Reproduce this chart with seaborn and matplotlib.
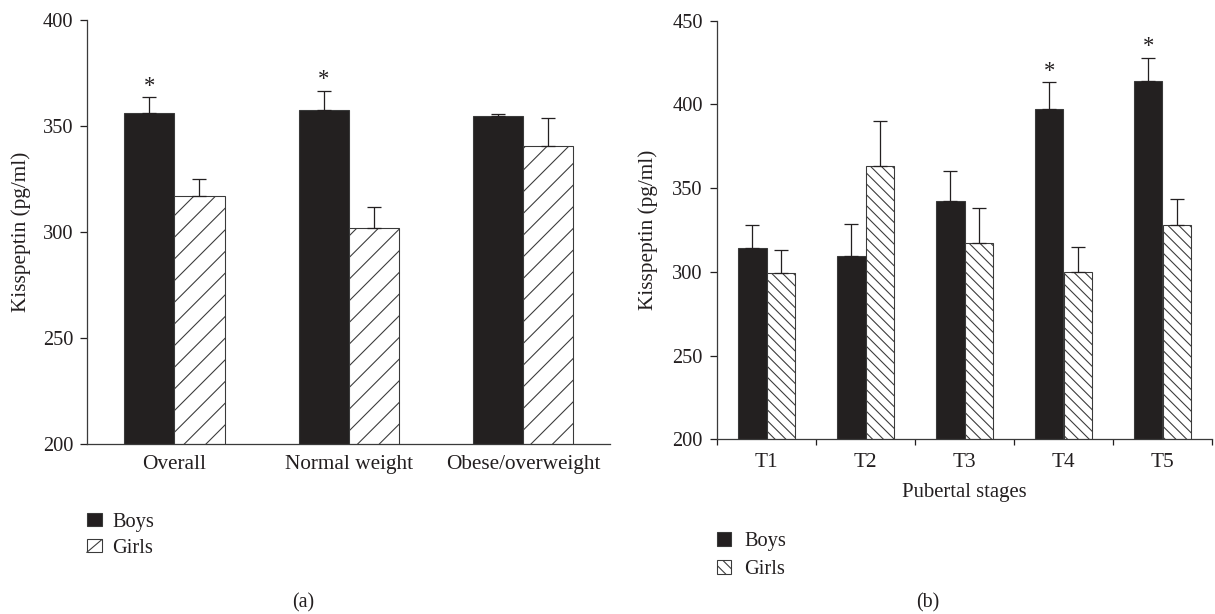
import numpy as np
import pandas as pd
import seaborn as sns
import matplotlib.pyplot as plt
from matplotlib.patches import Patch, Rectangle
from matplotlib.lines import Line2D
from matplotlib.legend_handler import HandlerPatch

# panel (a): by weight status
a_groups = ['Overall', 'Normal weight', 'Obese/overweight']
a_boys = [356, 357.5, 354.5]
a_boys_err = [7.5, 9.2, 1.2]
a_girls = [317, 302, 340.5]
a_girls_err = [8, 9.8, 13.2]
a_sig = ['Overall', 'Normal weight']

# panel (b): by pubertal stage
b_stages = ['T1', 'T2', 'T3', 'T4', 'T5']
b_boys = [314.5, 309.5, 342.5, 397, 414]
b_boys_err = [13.5, 19, 17.5, 16.2, 14]
b_girls = [299.5, 363.5, 317, 300, 328]
b_girls_err = [13.5, 26.3, 21.3, 15, 15.5]
b_sig = ['T4', 'T5']

sexes = ['Boys', 'Girls']

INK = '#231f20'
EDGE = '#3a3a3a'
DPI = 130
W, H = 1215, 614

sns.set_style('ticks')
plt.rcParams['font.family'] = ['Liberation Serif', 'DejaVu Serif']
plt.rcParams['font.size'] = 11
plt.rcParams['text.color'] = INK
plt.rcParams['axes.labelcolor'] = INK
plt.rcParams['xtick.color'] = INK
plt.rcParams['ytick.color'] = INK
plt.rcParams['axes.edgecolor'] = EDGE
plt.rcParams['axes.linewidth'] = 0.7
plt.rcParams['hatch.linewidth'] = 0.6
plt.rcParams['hatch.color'] = EDGE


class DiagonalBox(HandlerPatch):
    # legend key of panel (a): open box with one "/" stroke
    def create_artists(self, legend, orig_handle, xdescent, ydescent, width, height, fontsize, trans):
        x0, y0 = -xdescent, -ydescent
        box = Rectangle((x0, y0), width, height, facecolor='white', edgecolor=EDGE,
                        linewidth=0.6, transform=trans)
        stroke = Line2D([x0, x0 + width], [y0, y0 + height], color=EDGE, linewidth=0.6,
                        transform=trans)
        return [box, stroke]


def make_frame(cats, boys, girls):
    rows = []
    for c, b, g in zip(cats, boys, girls):
        rows.append({'cat': c, 'sex': 'Boys', 'val': b})
        rows.append({'cat': c, 'sex': 'Girls', 'val': g})
    return pd.DataFrame(rows)


def draw_panel(ax, cats, boys, boys_err, girls, girls_err, sig, hatch):
    df = make_frame(cats, boys, girls)
    sns.barplot(data=df, x='cat', y='val', hue='sex', order=cats, hue_order=sexes,
                palette=[INK, 'white'], width=0.575, gap=0, errorbar=None,
                edgecolor=EDGE, linewidth=0.6, legend=False, ax=ax)
    bars = sorted(ax.patches, key=lambda p: p.get_x())
    errs = [e for pair in zip(boys_err, girls_err) for e in pair]
    for i, (p, e) in enumerate(zip(bars, errs)):
        if i % 2 == 1:
            p.set_hatch(hatch)
        xc = p.get_x() + p.get_width() / 2
        top = p.get_height()
        ax.errorbar(xc, top, yerr=[[0], [e]], fmt='none', ecolor=INK,
                    elinewidth=0.7, capsize=4, capthick=0.7)
        if i % 2 == 0 and cats[i // 2] in sig:
            ax.annotate('*', xy=(xc, top + e), xytext=(0, 6), textcoords='offset points',
                        ha='center', va='center', fontsize=12.5)
    ax.set_xlim(-0.5, len(cats) - 0.5)
    ax.set_xlabel('')
    ax.set_ylabel('Kisspeptin (pg/ml)', fontsize=11.8)
    ax.yaxis.label.set_va('center')
    sns.despine(ax=ax)
    ax.tick_params(axis='y', length=3.9, width=0.7, pad=4, labelsize=11.3)
    ax.tick_params(axis='x', which='major', length=0, pad=6, labelsize=11.8)


fig = plt.figure(figsize=(W / DPI, H / DPI), dpi=DPI)


def px_axes(left, right, top, bottom):
    return fig.add_axes([left / W, 1 - bottom / H, (right - left) / W, (bottom - top) / H])


# (a)
ax_a = px_axes(87.3, 610, 20, 444)
draw_panel(ax_a, a_groups, a_boys, a_boys_err, a_girls, a_girls_err, a_sig, '//')
ax_a.set_ylim(200, 400)
ax_a.set_yticks(np.arange(200, 401, 50))
ax_a.yaxis.set_label_coords(-0.127, 0.5)
girls_a = Patch(facecolor='white', edgecolor=EDGE, linewidth=0.6, label='Girls')
ax_a.legend(handles=[Patch(facecolor=INK, edgecolor=EDGE, linewidth=0.6, label='Boys'), girls_a],
            handler_map={girls_a: DiagonalBox()},
            loc='upper left', bbox_to_anchor=(86.7 / W, 1 - 513 / H), bbox_transform=fig.transFigure,
            frameon=False, borderpad=0, borderaxespad=0, handlelength=0.75, handleheight=0.6,
            handletextpad=0.5, labelspacing=0.35, fontsize=11.3)

# (b)
ax_b = px_axes(717, 1212, 20.7, 439.3)
draw_panel(ax_b, b_stages, b_boys, b_boys_err, b_girls, b_girls_err, b_sig, '\\\\\\\\')
ax_b.set_ylim(200, 450)
ax_b.set_yticks(np.arange(200, 451, 50))
ax_b.yaxis.set_label_coords(-0.139, 0.5)
ax_b.set_xticks(np.arange(-0.5, len(b_stages), 1), minor=True)
ax_b.tick_params(axis='x', which='minor', length=3.3, width=0.7, direction='out')
ax_b.tick_params(axis='x', which='major', pad=7.5)
ax_b.set_xlabel('Pubertal stages', fontsize=11.5)
ax_b.xaxis.label.set_va('center')
ax_b.xaxis.set_label_coords(0.5, -0.126)
ax_b.legend(handles=[Patch(facecolor=INK, edgecolor=EDGE, linewidth=0.6, label='Boys'),
                     Patch(facecolor='white', edgecolor=EDGE, linewidth=0.6, hatch='\\\\\\\\', label='Girls')],
            loc='upper left', bbox_to_anchor=(717 / W, 1 - 532 / H), bbox_transform=fig.transFigure,
            frameon=False, borderpad=0, borderaxespad=0, handlelength=0.7, handleheight=0.65,
            handletextpad=0.65, labelspacing=0.45, fontsize=11.3)

fig.text(303 / W, 1 - 603 / H, '(a)', ha='center', va='center', fontsize=11)
fig.text(928 / W, 1 - 603 / H, '(b)', ha='center', va='center', fontsize=11)

fig.savefig('out.png', dpi=DPI)
